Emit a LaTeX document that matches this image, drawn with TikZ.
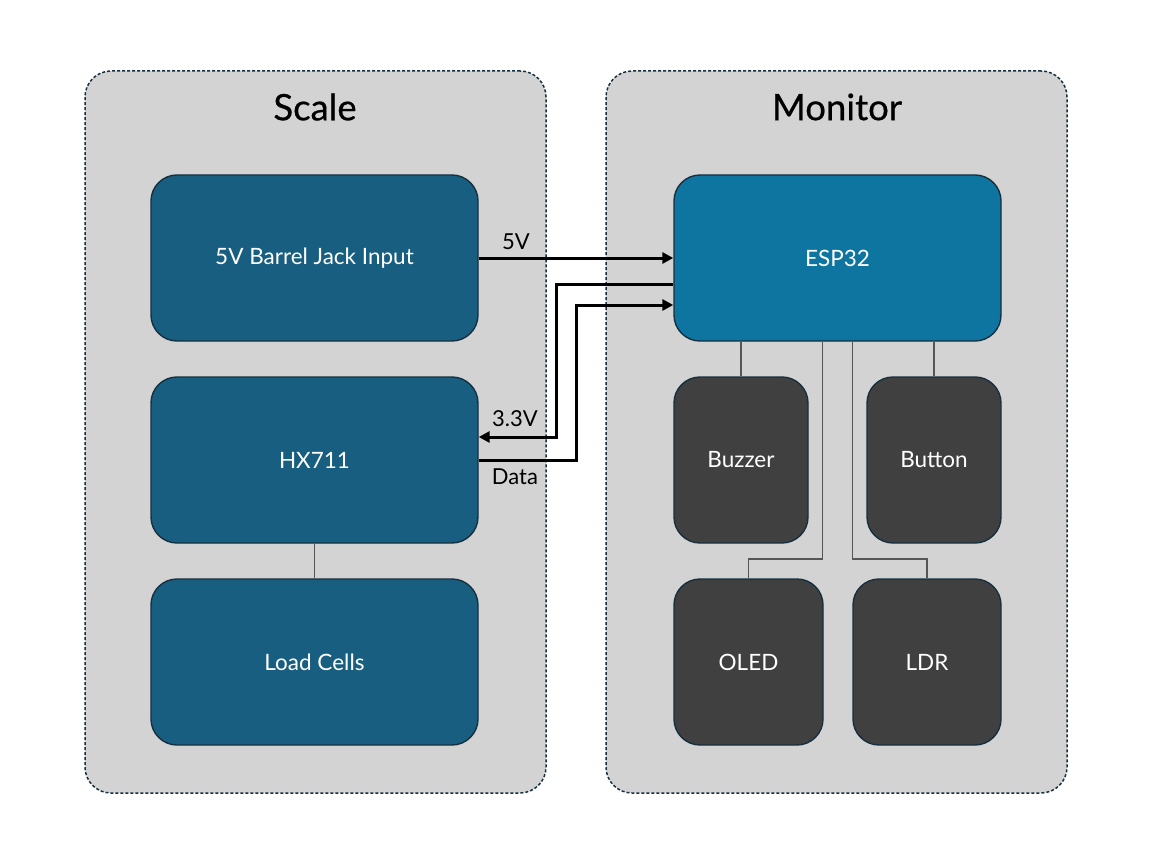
\documentclass[tikz,border=0pt]{standalone}
\usepackage{fontspec}
\setmainfont{Lato}
\newfontfamily\titlefont[FakeBold=0.6]{Lato}
\usetikzlibrary{calc,arrows.meta}
\definecolor{panel}{HTML}{D3D3D3}
\definecolor{navy}{HTML}{16303F}
\definecolor{scalebox}{HTML}{185E80}
\definecolor{espbox}{HTML}{0E74A0}
\definecolor{darkbox}{HTML}{404040}
\definecolor{wire}{HTML}{555555}
\tikzset{
  container/.style={draw=navy, fill=panel, dashed, dash pattern=on 3pt off 2pt, line width=1.5pt, rounded corners=26pt},
  blk/.style={draw=navy, line width=1.4pt, rounded corners=26pt, text=white, font=\fontsize{22.5}{26}\selectfont, inner sep=0pt},
  title/.style={font=\titlefont\fontsize{36.5}{42}\selectfont, text=black},
  arr/.style={draw=black, line width=3pt, -{Triangle[length=11pt,width=11pt]}},
  thin/.style={draw=wire, line width=1.6pt},
  lbl/.style={font=\fontsize{22}{26}\selectfont, text=black}
}
\begin{document}
\begin{tikzpicture}[x=1pt,y=-1pt]
\useasboundingbox[fill=white] (0,0) rectangle (1152,864);
% containers
\node[container, minimum width=461pt, minimum height=722pt] (scale) at (315.5,432) {};
\node[container, minimum width=461pt, minimum height=722pt] (monitor) at (836.5,432) {};
\node[title] (scaletitle) at (315,107) {Scale};
\node[title] (monitortitle) at (837,107) {Monitor};
% left blocks
\node[blk, fill=scalebox, minimum width=327pt, minimum height=166pt] (barrel) at (314.5,258) {5V Barrel Jack Input};
\node[blk, fill=scalebox, minimum width=327pt, minimum height=166pt] (hx) at (314.5,460) {HX711};
\node[blk, fill=scalebox, minimum width=327pt, minimum height=166pt] (load) at (314.5,662) {Load Cells};
% right blocks
\node[blk, fill=espbox, minimum width=327pt, minimum height=166pt] (esp) at (837.5,258) {ESP32};
\node[blk, fill=darkbox, minimum width=134pt, minimum height=166pt] (buzzer) at (741,460) {Buzzer};
\node[blk, fill=darkbox, minimum width=134pt, minimum height=166pt] (button) at (934,460) {Button};
\node[blk, fill=darkbox, minimum width=149pt, minimum height=166pt] (oled) at (748.5,662) {OLED};
\node[blk, fill=darkbox, minimum width=148pt, minimum height=166pt] (ldr) at (927,662) {LDR};
% thin wires
\draw[thin] (hx.south) -- (load.north);
\draw[thin] (esp.south -| buzzer.north) -- (buzzer.north);
\draw[thin] (esp.south -| button.north) -- (button.north);
\coordinate (oj) at (822.5,559);
\coordinate (lj) at (852.5,559);
\draw[thin] (esp.south -| oj) -- (oj) -| (oled.north);
\draw[thin] (esp.south -| lj) -- (lj) -| (ldr.north);
% power and data wires
\draw[arr] (barrel.east) -- (esp.west);
\draw[arr] ($(esp.west)+(0,26)$) -- ++(-117,0) |- ($(hx.east)+(0,-23)$);
\draw[arr] (hx.east) -- ++(98,0) |- ($(esp.west)+(0,47)$);
% labels
\node[lbl] (l5v) at (516,242) {5V};
\node[lbl] (l33) at (515,419) {3.3V};
\node[lbl] (ldata) at (515,477) {Data};
\end{tikzpicture}
\end{document}
